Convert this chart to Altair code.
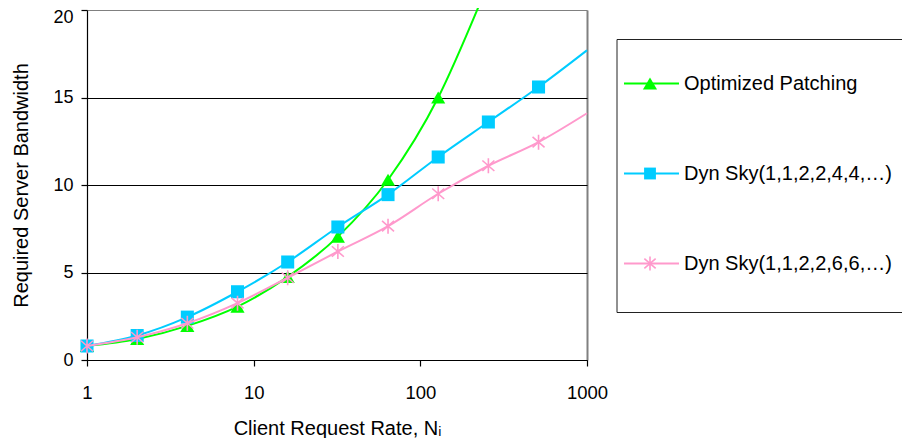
import altair as alt
import pandas as pd

# ---- data ----
x_marks = [1, 2, 4, 8, 16, 32, 64, 128, 256, 512]

op_y = [0.8, 1.2, 1.95, 3.05, 4.75, 7.05, 10.3, 15.0]
op_tail_x = [226]
op_tail_y = [20.3]

sky4_y = [0.8, 1.4, 2.45, 3.9, 5.6, 7.6, 9.45, 11.6, 13.6, 15.6]
sky4_tail_x = [1000]
sky4_tail_y = [17.7]

sky6_y = [0.8, 1.3, 2.1, 3.25, 4.7, 6.2, 7.65, 9.5, 11.1, 12.45]
sky6_tail_x = [1000]
sky6_tail_y = [14.1]

names = ["Optimized Patching", "Dyn Sky(1,1,2,2,4,4,…)", "Dyn Sky(1,1,2,2,6,6,…)"]
colors = ["#00FF00", "#00CCFF", "#FF99CC"]
x_ticks = [1, 10, 100, 1000]
y_ticks = [0, 5, 10, 15, 20]

FONT = "Liberation Sans"
ASTERISK = "M0,-1V1M-0.8,-0.7L0.8,0.7M-0.8,0.7L0.8,-0.7"

X = alt.X(
    "x:Q",
    scale=alt.Scale(type="log", domain=[1, 1000], nice=False),
    axis=alt.Axis(
        values=x_ticks, format="d", title="Client Request Rate, Nᵢ",
        labelFlush=False, labelBaseline="alphabetic", labelPadding=32,
        labelFontSize=18.5, labelColor="black", labelFont=FONT,
        tickSize=6, tickColor="black", tickWidth=1.2,
        domainColor="black", domainWidth=1.2,
        titleFontSize=20, titleFontWeight="normal", titleColor="black", titleFont=FONT,
        titleY=74, titleBaseline="alphabetic",
        grid=True, gridColor="#808080", gridWidth=2,
        gridOpacity={"condition": {"test": "datum.value >= 1000", "value": 1}, "value": 0},
    ),
)
Y = alt.Y(
    "y:Q",
    scale=alt.Scale(domain=[0, 20], nice=False),
    axis=alt.Axis(
        values=y_ticks, title="Required Server Bandwidth",
        labelFontSize=18, labelColor="black", labelFont=FONT, labelPadding=8,
        labelOffset={"condition": {"test": "datum.value >= 20", "value": 7}, "value": 0},
        tickSize=6, tickColor="black", tickWidth=1.2,
        domainColor="black", domainWidth=1.2,
        titleFontSize=20, titleFontWeight="normal", titleColor="black", titleFont=FONT,
        titleX=-60, titleBaseline="alphabetic",
        grid=True, gridWidth=1,
        gridColor={"condition": {"test": "datum.value >= 20", "value": "#808080"}, "value": "#000000"},
    ),
)


def series(xs_m, ys_m, tail_x, tail_y, color, shape, size, filled):
    line_df = pd.DataFrame({"x": list(xs_m) + tail_x, "y": list(ys_m) + tail_y})
    pts_df = pd.DataFrame({"x": list(xs_m), "y": list(ys_m)})
    line = alt.Chart(line_df).mark_line(color=color, strokeWidth=2, interpolate="monotone").encode(x=X, y=Y)
    if filled:
        pts = alt.Chart(pts_df).mark_point(shape=shape, size=size, filled=True, color=color, opacity=1).encode(x=X, y=Y)
    else:
        pts = alt.Chart(pts_df).mark_point(shape=shape, size=size, filled=False, color=color, opacity=1, strokeWidth=1.6).encode(x=X, y=Y)
    return [line, pts]


layers = []
layers += series(x_marks[:len(op_y)], op_y, op_tail_x, op_tail_y, colors[0], "triangle-up", 200, True)
layers += series(x_marks, sky4_y, sky4_tail_x, sky4_tail_y, colors[1], "square", 170, True)
layers += series(x_marks, sky6_y, sky6_tail_x, sky6_tail_y, colors[2], ASTERISK, 225, False)

# ---- legend (drawn manually; box open at the right edge like the reference) ----
one = pd.DataFrame({"a": [0]})
BOX_L, BOX_R, BOX_T, BOX_B = 530, 830, 29.5, 302.5
layers.append(alt.Chart(one).mark_rule(color="#222222", strokeWidth=1).encode(
    x=alt.value(BOX_L), x2=alt.value(BOX_R), y=alt.value(BOX_T)))
layers.append(alt.Chart(one).mark_rule(color="#222222", strokeWidth=1).encode(
    x=alt.value(BOX_L), x2=alt.value(BOX_R), y=alt.value(BOX_B)))
layers.append(alt.Chart(one).mark_rule(color="#222222", strokeWidth=1).encode(
    x=alt.value(BOX_L), y=alt.value(BOX_T), y2=alt.value(BOX_B)))

shapes = [("triangle-up", 200, True), ("square", 140, True), (ASTERISK, 200, False)]
for i, (name, color, (shp, sz, fl)) in enumerate(zip(names, colors, shapes)):
    yc = 73.5 + 90 * i
    d = pd.DataFrame({"label": [name]})
    layers.append(alt.Chart(d).mark_rule(color=color, strokeWidth=2).encode(
        x=alt.value(537), x2=alt.value(592), y=alt.value(yc)))
    if fl:
        layers.append(alt.Chart(d).mark_point(shape=shp, size=sz, filled=True, color=color, opacity=1).encode(
            x=alt.value(563), y=alt.value(yc)))
    else:
        layers.append(alt.Chart(d).mark_point(shape=shp, size=sz, filled=False, color=color, opacity=1, strokeWidth=1.6).encode(
            x=alt.value(563), y=alt.value(yc)))
    layers.append(alt.Chart(d).mark_text(align="left", baseline="middle", fontSize=20, font=FONT, color="black").encode(
        x=alt.value(597), y=alt.value(yc), text="label:N"))

chart = alt.layer(*layers).properties(
    width=500, height=350,
    autosize=alt.AutoSizeParams(type="none"),
    padding={"left": 79, "top": 2, "right": 315, "bottom": 78},
).configure_view(stroke=None).configure(font=FONT, background="white")

chart.save("out.html", embed_options={"renderer": "svg", "actions": False})
